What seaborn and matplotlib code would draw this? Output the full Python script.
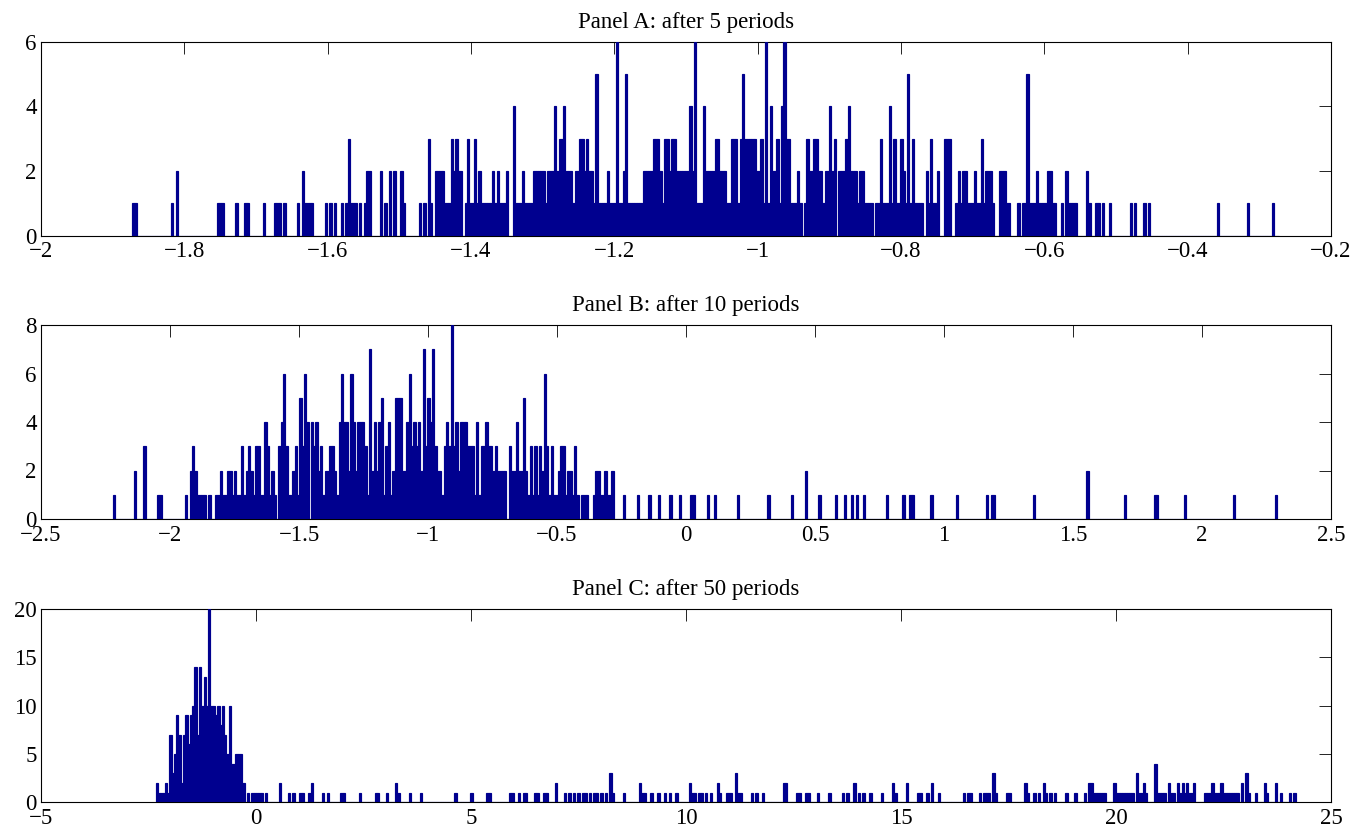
import numpy as np
import matplotlib
matplotlib.use("Agg")
import matplotlib.pyplot as plt
import seaborn as sns
from matplotlib.ticker import FuncFormatter, MultipleLocator

# ---------------- data ----------------
titles = ["Panel A: after 5 periods", "Panel B: after 10 periods", "Panel C: after 50 periods"]
n_bins = 500

# Panel A
a_range = (-1.873, -0.273)
a_xlim = (-2.0, -0.2)
a_xstep = 0.2
a_ylim = (0, 6)
a_ystep = 2
a_runs = [
    (0, [1, 1]), (17, [1, 0, 2]), (37, [1, 1, 1]), (45, [1]), (49, [1, 1]), (57, [1]),
    (62, [1, 1, 1, 0, 1]), (72, [1, 0, 2, 1, 1, 1, 1]), (84, [1, 0, 1, 0, 1]),
    (91, [1, 0, 1, 3, 1, 1, 1, 0, 1, 0, 1, 2, 2]),
    (108, [2, 0, 1, 0, 2, 0, 2, 0, 0, 2, 1]),
    (125, [1, 0, 1, 0, 3, 1, 0, 2, 2]),
    (134, [2, 2, 1, 1, 1, 3, 2, 3, 2, 2,
           0, 1, 3, 1, 1, 3, 1, 2, 1, 1,
           1, 1, 1, 2, 1, 2, 1, 1, 1, 2,
           0, 0, 4, 1, 1, 1, 2, 1, 1, 1,
           1, 2, 2, 2, 2, 2, 1, 2, 2, 2,
           4, 2, 3, 3, 4, 2, 2, 2, 1, 2,
           2, 3, 3, 2, 3, 2, 2, 1, 5, 1,
           1, 1, 1, 2, 1, 1, 1, 6, 1, 1,
           2, 5, 1, 1, 1, 1, 1, 1, 1, 2,
           2, 2, 2, 3, 3, 3, 2, 1, 3, 3,
           2, 3, 3, 2, 2, 2, 2, 2, 2, 4,
           2, 6, 1, 1, 1, 4, 2, 2, 2, 2,
           3, 3, 2, 2, 2, 1, 1, 3, 3, 3,
           1, 3, 5, 3, 3, 3, 3, 3, 2, 2,
           3, 1, 6, 1, 4, 2, 2, 3, 1, 4,
           6, 3, 3, 1, 1, 1, 2, 1, 0, 1,
           3, 2, 2, 3, 3, 2, 2, 1, 2, 2,
           4, 2, 3, 0, 2, 2, 2, 3, 4, 2,
           2, 2, 1, 2, 2, 1, 1, 1, 1, 0,
           1, 1, 3, 1, 1, 1, 4, 1, 3, 1,
           1, 3, 2, 1, 5, 1, 3, 1, 1, 1,
           1, 0, 2, 1, 3, 1, 1, 2, 0, 0,
           3, 3, 3, 0, 0, 1, 2, 1, 2, 2,
           1, 1, 1, 2, 1, 1, 3, 1, 2, 2,
           2, 1, 0, 0, 2, 2, 2, 1, 1, 0,
           0, 0, 1, 0, 1, 1, 5, 1, 1, 1,
           2, 1, 1, 1, 1, 2, 2, 1, 1, 0,
           0, 1, 0, 2, 1, 1, 1, 1, 0, 0,
           0, 0, 2, 1, 0, 0, 1, 1, 0, 1,
           0, 0, 1, 0, 0, 0, 0, 0, 0, 0,
           0, 1, 0, 1, 0, 0, 0, 1, 0, 1]),
    (473, [1]), (486, [1]), (497, [1]),
]

# Panel B
b_range = (-2.2213, 2.2915)
b_xlim = (-2.5, 2.5)
b_xstep = 0.5
b_ylim = (0, 8)
b_ystep = 2
b_runs = [
    (0, [1]), (9, [2]), (13, [3]), (19, [1, 1]),
    (31, [1, 0, 2, 3, 2, 1, 1, 1, 1, 0, 1]),
    (44, [1, 1, 2, 1, 1, 2, 2, 1, 2, 1,
          1, 3, 1, 2, 3, 2, 1, 3, 3, 1,
          1, 4, 3, 1, 2, 1, 0, 3, 4, 6,
          3, 1, 1, 2, 3, 1, 5, 3, 6, 4,
          0, 4, 3, 4, 2, 3, 1, 2, 2, 3,
          3, 2, 1, 4, 6, 4, 4, 2, 6, 4,
          2, 4, 4, 4, 3, 1, 7, 2, 4, 2,
          4, 5, 1, 3, 4, 1, 2, 5, 5, 5,
          2, 2, 4, 6, 3, 4, 3, 4, 2, 7,
          3, 5, 4, 7, 3, 2, 2, 1, 3, 4,
          3, 8, 3, 4, 2, 4, 4, 4, 3, 3,
          3, 1, 4, 1, 3, 3, 4, 3, 3, 2,
          3, 2, 2, 2, 2, 0, 3, 2, 2, 4,
          2, 2, 5, 2, 1, 3, 1, 3, 1, 3,
          2, 6, 3, 1, 3, 1, 1, 2, 3, 3,
          1, 2, 2, 1, 3, 1, 0, 1, 1, 1,
          0, 0, 1, 2, 2, 1, 1, 2, 1, 1, 2]),
]
b_sparse_idx = [219, 225, 230, 234, 239, 243, 248, 249, 255, 258, 268, 281, 291, 297,
                303, 310, 314, 317, 319, 322, 332, 339, 342, 343, 351, 362, 375, 377,
                378, 395, 418, 434, 447, 448, 460, 481, 499]
b_sparse_cnt = [1, 1, 1, 1, 1, 1, 1, 1, 1, 1, 1, 1, 1, 2,
                1, 1, 1, 1, 1, 1, 1, 1, 1, 1, 1, 1, 1, 1,
                1, 1, 2, 1, 1, 1, 1, 1, 1]

# Panel C
c_range = (-2.333, 24.177)
c_xlim = (-5, 25)
c_xstep = 5
c_ylim = (0, 20)
c_ystep = 5
c_runs = [
    (0, [2, 1, 1, 1, 2, 1, 7, 3, 5, 9,
         7, 2, 7, 9, 6, 9, 10, 14, 7, 14,
         10, 13, 10, 20, 10, 10, 9, 10, 8, 10,
         7, 5, 10, 4, 4, 5, 5, 5, 2, 0,
         1, 0, 1, 1, 1, 1, 1, 0, 1]),
]
c_sparse_idx = [54, 58, 60, 63, 64, 67, 68, 73, 75, 81, 82, 89, 96, 97, 101, 105, 106,
                111, 116, 131, 138, 145, 146, 155, 156, 159, 161, 162, 166, 167, 170,
                171, 175, 179, 181, 183, 185, 187, 188, 190, 192, 193, 195, 197, 199,
                200, 205, 212, 213, 214, 217, 220, 223, 225, 228, 234, 235, 236, 238,
                239, 241, 243, 246, 247, 250, 251, 252, 254, 255, 256, 261, 263, 266,
                275, 276, 281, 282, 285, 286, 290, 295, 301, 303, 306, 308, 310, 313,
                318, 323, 324, 329, 334, 335, 338, 340, 343, 354, 356, 357, 361, 363,
                364, 365, 367, 368, 373, 374, 381, 382, 385, 387, 389, 390, 392, 394,
                399, 403, 407, 409, 410, 411, 412, 413, 414, 415, 416, 420, 421, 422,
                423, 424, 425, 426, 427, 428, 430, 431, 432, 433, 434, 438, 439, 440,
                441, 442, 444, 445, 446, 448, 449, 450, 451, 452, 453, 454, 455, 460,
                461, 462, 463, 464, 465, 466, 467, 468, 469, 470, 471, 472, 473, 474,
                476, 478, 479, 482, 486, 487, 491, 493, 497, 499]
c_sparse_cnt = [2, 1, 1, 1, 1, 1, 2, 1, 1, 1, 1, 1, 1, 1, 1, 2, 1,
                1, 1, 1, 1, 1, 1, 1, 1, 1, 1, 1, 1, 1, 1,
                1, 2, 1, 1, 1, 1, 1, 1, 1, 1, 1, 1, 1, 3,
                1, 1, 2, 1, 1, 1, 1, 1, 1, 1, 2, 1, 1, 1,
                1, 1, 1, 2, 1, 1, 1, 1, 3, 1, 1, 1, 1, 1,
                2, 2, 1, 1, 1, 1, 1, 1, 1, 1, 2, 1, 1, 1,
                1, 2, 1, 2, 1, 1, 1, 2, 1, 1, 1, 1, 1, 1,
                1, 1, 3, 1, 1, 1, 2, 1, 1, 1, 2, 1, 1, 1,
                1, 1, 1, 2, 2, 1, 1, 1, 1, 1, 1, 2, 1, 1,
                1, 1, 1, 1, 1, 1, 3, 1, 1, 2, 1, 4, 1, 1,
                1, 1, 2, 1, 1, 2, 1, 2, 1, 2, 1, 1, 2, 1,
                1, 1, 2, 1, 1, 1, 2, 1, 1, 1, 1, 1, 1, 1,
                2, 3, 1, 1, 2, 1, 2, 1, 1, 1]


def build_counts(runs, idx=(), cnt=()):
    counts = np.zeros(n_bins)
    for start, vals in runs:
        counts[start:start + len(vals)] = vals
    for i, c in zip(idx, cnt):
        counts[i] = c
    return counts


panels = [
    (titles[0], a_range, build_counts(a_runs), a_xlim, a_xstep, a_ylim, a_ystep),
    (titles[1], b_range, build_counts(b_runs, b_sparse_idx, b_sparse_cnt), b_xlim, b_xstep, b_ylim, b_ystep),
    (titles[2], c_range, build_counts(c_runs, c_sparse_idx, c_sparse_cnt), c_xlim, c_xstep, c_ylim, c_ystep),
]

# ---------------- style ----------------
sns.set_style("white")
plt.rcParams["font.family"] = ["Liberation Serif", "DejaVu Serif"]
plt.rcParams["axes.unicode_minus"] = True

bar_color = "#00008F"


def fmt(v, _):
    if abs(v) < 1e-9:
        return "0"
    s = "%g" % round(v, 6)
    return s.replace("-", "\u2212")


fig = plt.figure(figsize=(13.72, 8.34), dpi=100)
W, H = 1372.0, 834.0
ax_boxes = [(41, 41.7, 1331, 235.7), (41, 325, 1331, 519), (41, 609, 1331, 802.3)]

for (title, rng, counts, xlim, xstep, ylim, ystep), (l, t, r, b) in zip(panels, ax_boxes):
    ax = fig.add_axes([l / W, 1 - b / H, (r - l) / W, (b - t) / H])
    edges = np.linspace(rng[0], rng[1], n_bins + 1)
    centers = 0.5 * (edges[:-1] + edges[1:])
    sns.histplot(x=centers, weights=counts, bins=n_bins, binrange=rng,
                 color=bar_color, edgecolor=bar_color, linewidth=0.85,
                 alpha=1.0, ax=ax, zorder=3)
    ax.set_xlim(*xlim)
    ax.set_ylim(*ylim)
    ax.xaxis.set_major_locator(MultipleLocator(xstep))
    ax.yaxis.set_major_locator(MultipleLocator(ystep))
    ax.xaxis.set_major_formatter(FuncFormatter(fmt))
    ax.yaxis.set_major_formatter(FuncFormatter(fmt))
    ax.set_xlabel("")
    ax.set_ylabel("")
    ax.set_title(title, fontsize=16.5, pad=10, color="black")
    for sp in ax.spines.values():
        sp.set_visible(True)
        sp.set_color("black")
        sp.set_linewidth(0.8)
        sp.set_zorder(2)
    ax.tick_params(axis="both", which="major", direction="in", length=8.5, width=0.6,
                   top=True, right=True, labelsize=16.5, colors="black")
    ax.tick_params(axis="x", pad=4)
    ax.tick_params(axis="y", pad=3)
    ax.set_facecolor("white")

fig.savefig("out.png", dpi=100, facecolor="white")
